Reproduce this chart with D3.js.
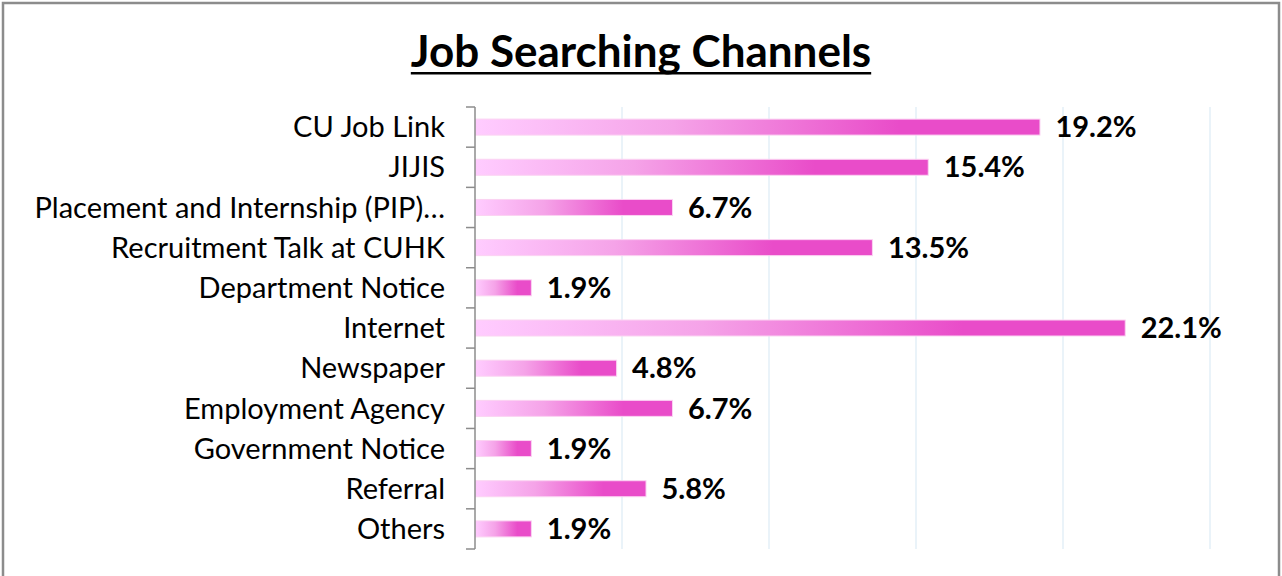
<!DOCTYPE html>
<html><head><meta charset="utf-8">
<script src="https://cdn.jsdelivr.net/npm/d3@7"></script>
<style>
html,body{margin:0;padding:0;background:#fff;}
svg{display:block;}
</style></head>
<body>
<svg id="chart" width="1282" height="576"></svg>
<script>
const categories = ["CU Job Link","JIJIS","Placement and Internship (PIP)…","Recruitment Talk at CUHK","Department Notice","Internet","Newspaper","Employment Agency","Government Notice","Referral","Others"];
const values = [19.2,15.4,6.7,13.5,1.9,22.1,4.8,6.7,1.9,5.8,1.9];
const xTicks = [0,5,10,15,20,25];
const chartTitle = "Job Searching Channels";

(function(){
const W = 1282, H = 576;
const svg = d3.select("#chart");
const font = "Lato, 'Open Sans', sans-serif";

svg.append("rect").attr("x",3).attr("y",3).attr("width",1276).attr("height",H+10)
  .attr("fill","#fff").attr("stroke","#8c8c8c").attr("stroke-width",2.5);

const pLeft = 475, pRight = 1210, pTop = 107, pBottom = 549;
const x = d3.scaleLinear().domain([0,25]).range([pLeft,pRight]);
const yb = d3.scaleBand().domain(categories).range([pTop,pBottom]);

const defs = svg.append("defs");
const grad = defs.append("linearGradient").attr("id","barGrad")
  .attr("x1","0%").attr("x2","100%").attr("y1","0%").attr("y2","0%");
grad.append("stop").attr("offset","0%").attr("stop-color","#ffccff");
grad.append("stop").attr("offset","35%").attr("stop-color","#f5a3e8");
grad.append("stop").attr("offset","75%").attr("stop-color","#e94cc9");
grad.append("stop").attr("offset","100%").attr("stop-color","#e94cc9");

svg.append("g").selectAll("line").data(xTicks.slice(1)).join("line")
  .attr("x1",d=>x(d)).attr("x2",d=>x(d)).attr("y1",pTop).attr("y2",pBottom)
  .attr("stroke","#dcebf5").attr("stroke-width",1.2);

svg.append("g").selectAll("rect").data(values).join("rect")
  .attr("x",x(0)+0.5).attr("y",(d,i)=>yb(categories[i])+yb.bandwidth()/2-8)
  .attr("width",d=>x(d)-x(0)).attr("height",16)
  .attr("fill","url(#barGrad)").attr("stroke","#fbd3f2").attr("stroke-width",1);

const yAxis = d3.axisLeft(yb).tickSize(0).tickPadding(30);
const ag = svg.append("g").attr("transform",`translate(${pLeft},0)`).call(yAxis);
ag.select(".domain").remove();
ag.selectAll("text").attr("font-family",font).attr("font-size",29).attr("fill","#000")
  .attr("dy","0.35em");
const bounds = categories.map(c=>yb(c)).concat([pBottom]);
svg.append("line").attr("x1",pLeft).attr("x2",pLeft).attr("y1",pTop).attr("y2",pBottom)
  .attr("stroke","#8c8c8c").attr("stroke-width",1.5);
svg.append("g").selectAll("line").data(bounds).join("line")
  .attr("x1",pLeft-9).attr("x2",pLeft).attr("y1",d=>d).attr("y2",d=>d)
  .attr("stroke","#8c8c8c").attr("stroke-width",1.5);

svg.append("g").selectAll("text").data(values).join("text")
  .attr("x",d=>x(d)+16).attr("y",(d,i)=>yb(categories[i])+yb.bandwidth()/2)
  .attr("dy","0.35em").attr("font-family",font).attr("font-weight","bold").attr("font-size",29)
  .text(d=>d.toFixed(1)+"%");

const t = svg.append("text").attr("x",641).attr("y",67).attr("text-anchor","middle")
  .attr("font-family",font).attr("font-weight","bold").attr("font-size",44).text(chartTitle);
const bb = t.node().getBBox();
svg.append("rect").attr("x",bb.x).attr("y",72).attr("width",bb.width).attr("height",2.5).attr("fill","#000");
})();
</script>
</body></html>
